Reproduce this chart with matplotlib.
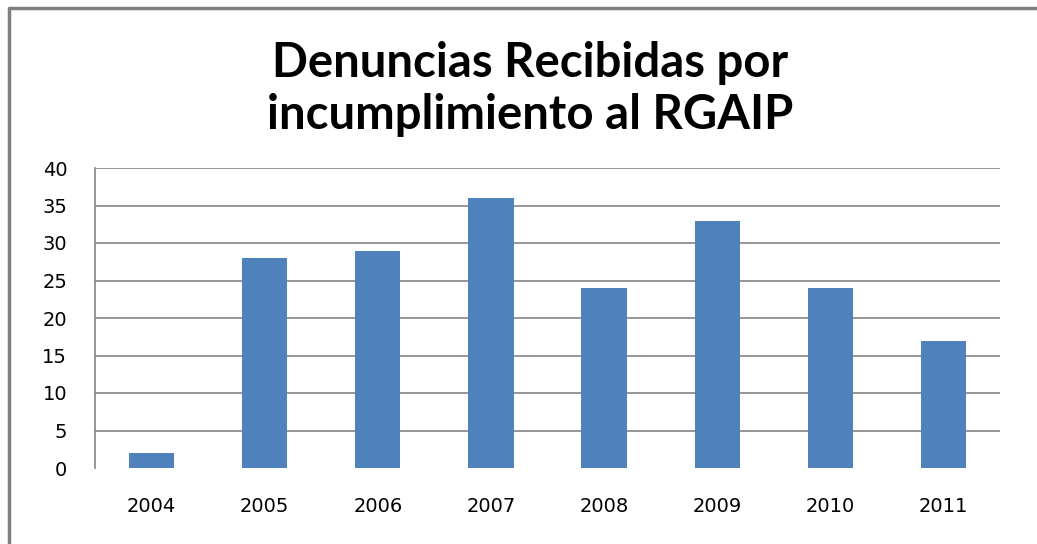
import matplotlib.pyplot as plt
import numpy as np
from matplotlib.lines import Line2D

years = ['2004', '2005', '2006', '2007', '2008', '2009', '2010', '2011']
denuncias = [2, 28, 29, 36, 24, 33, 24, 17]
yticks = [0, 5, 10, 15, 20, 25, 30, 35, 40]
title = 'Denuncias Recibidas por\nincumplimiento al RGAIP'

fig = plt.figure(figsize=(10.37, 5.44), dpi=100)
W, H = 1037, 544
ax = fig.add_axes([95 / W, 1 - 468 / H, 905 / W, 300 / H])

x = np.arange(len(years))
ax.bar(x, denuncias, width=0.4, color='#4F81BD', zorder=3)

ax.set_xlim(-0.5, len(years) - 0.5)
ax.set_ylim(0, 40)
ax.set_yticks(yticks)
ax.set_xticks(x)
ax.set_xticklabels(years)
# gridlines except at zero
for v in yticks[1:]:
    ax.axhline(v, color='#868686', linewidth=1.2, zorder=0)
ax.tick_params(axis='both', length=0, labelsize=14, colors='black')
ax.tick_params(axis='x', pad=21)
ax.tick_params(axis='y', pad=20)
for s in ['top', 'right', 'bottom']:
    ax.spines[s].set_visible(False)
ax.spines['left'].set_color('#868686')
ax.spines['left'].set_linewidth(1.2)

fig.text(530 / W, 1 - 89 / H, title, ha='center', va='center',
         fontsize=34, fontweight='bold', family='Lato', linespacing=1.2)

# gray frame: only top and left edges are visible
fig.lines.append(Line2D([9 / W, 9 / W, 1], [0, 1 - 8 / H, 1 - 8 / H],
                        transform=fig.transFigure, color='#7f7f7f',
                        linewidth=2.5))

fig.savefig('out.png', dpi=100, facecolor='white')
